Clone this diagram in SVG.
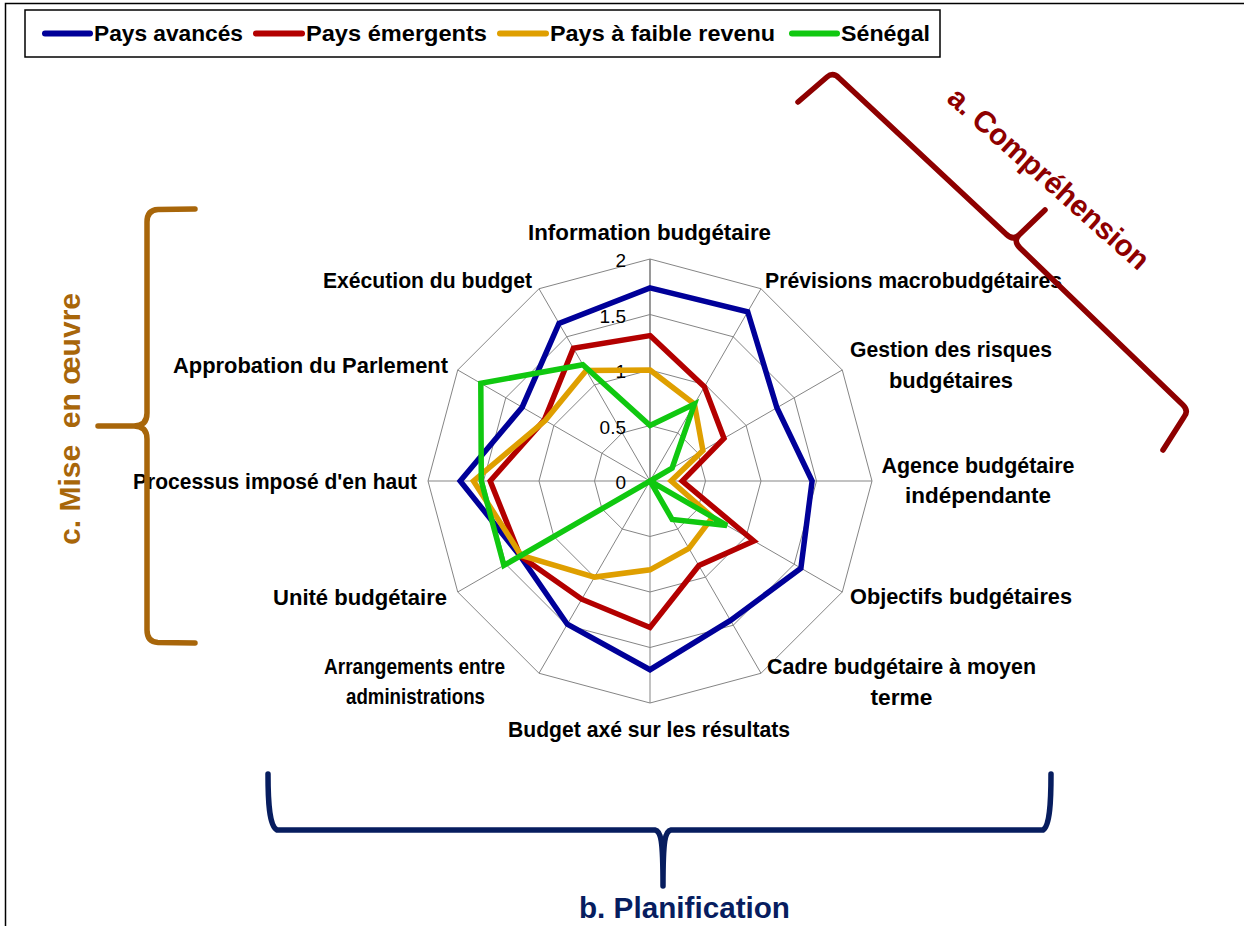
<svg xmlns="http://www.w3.org/2000/svg" width="1244" height="926" viewBox="0 0 1244 926">
<style>
.grid{fill:none;stroke:#858585;stroke-width:1}
.ser{fill:none;stroke-width:5.5;stroke-linejoin:miter;stroke-miterlimit:4}
.lbl{font-family:"Liberation Sans",Arial,sans-serif;font-weight:bold;font-size:21.5px;fill:#000;text-anchor:middle}
.tick{font-family:"Liberation Sans",Arial,sans-serif;font-size:19px;fill:#000;text-anchor:end}
.leg{font-family:"Liberation Sans",Arial,sans-serif;font-weight:bold;font-size:21.5px;fill:#000}
.legline{stroke-width:6;stroke-linecap:round}
.brace{fill:none;stroke-width:5.5;stroke-linecap:round;stroke-linejoin:round}
.big{font-family:"Liberation Sans",Arial,sans-serif;font-weight:bold;font-size:30px;text-anchor:middle}
</style>
<rect width="1244" height="926" fill="#fff"/>
<path d="M5.5,926 L5.5,3.5 L1244,3.5" fill="none" stroke="#000" stroke-width="1.5"/>

<g id="legend">
<rect x="25" y="10" width="915" height="47" fill="#fff" stroke="#000" stroke-width="1.5"/>
<line class="legline" x1="45" y1="33.5" x2="90" y2="33.5" stroke="#000099"/>
<text class="leg" x="94" y="41" textLength="149" lengthAdjust="spacingAndGlyphs">Pays avancés</text>
<line class="legline" x1="256" y1="33.5" x2="302" y2="33.5" stroke="#B30000"/>
<text class="leg" x="306" y="41" textLength="181" lengthAdjust="spacingAndGlyphs">Pays émergents</text>
<line class="legline" x1="500" y1="33.5" x2="546" y2="33.5" stroke="#DF9F00"/>
<text class="leg" x="550" y="41" textLength="225" lengthAdjust="spacingAndGlyphs">Pays à faible revenu</text>
<line class="legline" x1="792" y1="33.5" x2="837" y2="33.5" stroke="#10C810"/>
<text class="leg" x="841" y="41" textLength="89" lengthAdjust="spacingAndGlyphs">Sénégal</text>
</g>

<g id="grid">
<polygon class="grid" points="650,259 761,288.74 842.26,370 872,481 842.26,592 761,673.26 650,703 539,673.26 457.74,592 428,481 457.74,370 539,288.74"/>
<polygon class="grid" points="650,314.5 733.25,336.81 794.19,397.75 816.5,481 794.19,564.25 733.25,625.19 650,647.5 566.75,625.19 505.81,564.25 483.5,481 505.81,397.75 566.75,336.81"/>
<polygon class="grid" points="650,370 705.5,384.87 746.13,425.5 761,481 746.13,536.5 705.5,577.13 650,592 594.5,577.13 553.87,536.5 539,481 553.87,425.5 594.5,384.87"/>
<polygon class="grid" points="650,425.5 677.75,432.94 698.06,453.25 705.5,481 698.06,508.75 677.75,529.06 650,536.5 622.25,529.06 601.94,508.75 594.5,481 601.94,453.25 622.25,432.94"/>
<path class="grid" d="M650,481 L761,288.74 M650,481 L842.26,370 M650,481 L872,481 M650,481 L842.26,592 M650,481 L761,673.26 M650,481 L650,703 M650,481 L539,673.26 M650,481 L457.74,592 M650,481 L428,481 M650,481 L457.74,370 M650,481 L539,288.74"/>
<line x1="650" y1="481" x2="650" y2="259" stroke="#808080" stroke-width="1.6"/>
</g>

<g id="ticks">
<text class="tick" x="626" y="267">2</text>
<text class="tick" x="626" y="322.5">1.5</text>
<text class="tick" x="626" y="378">1</text>
<text class="tick" x="626" y="433.5">0.5</text>
<text class="tick" x="626" y="489">0</text>
</g>

<g id="series">
<polygon id="s-avances" class="ser" stroke="#000099" points="650,287.9 747.7,311.8 776.9,407.7 812.1,481 800.9,568.2 730.5,620.4 650,669.7 567.3,624.2 520.2,556 460.2,481 522.2,407.2 559,323.4"/>
<polygon id="s-emergents" class="ser" stroke="#B30000" points="650,335.6 704.4,386.8 724,438.3 682.2,481 753.8,541 698.9,565.6 650,627.5 581.7,599.2 520.2,556 490.2,481 544.3,420 573.4,348.3"/>
<polygon id="s-faible" class="ser" stroke="#DF9F00" points="650,370 694.4,404.1 702.9,450.5 671.1,481 712.5,517.1 688.9,548.3 650,569.8 594.5,577.1 521.2,555.4 473.5,481 545.2,420.5 586.2,370.4"/>
<polygon id="s-senegal" class="ser" stroke="#10C810" points="650,425.5 694.4,404.1 672.1,468.2 650,481 726.9,525.4 672.2,519.5 650,481 503.9,565.4 481.3,481 480.8,383.3 582.8,364.7"/>
</g>

<g id="labels">
<g id="lbl-information"><text class="lbl" x="649.5" y="240" textLength="243" lengthAdjust="spacingAndGlyphs">Information budgétaire</text></g>
<g id="lbl-previsions"><text class="lbl" x="913.5" y="288" textLength="297" lengthAdjust="spacingAndGlyphs">Prévisions macrobudgétaires</text></g>
<g id="lbl-risques"><text class="lbl" x="951" y="357" textLength="202" lengthAdjust="spacingAndGlyphs">Gestion des risques</text><text class="lbl" x="951" y="388" textLength="124" lengthAdjust="spacingAndGlyphs">budgétaires</text></g>
<g id="lbl-agence"><text class="lbl" x="978" y="473" textLength="193" lengthAdjust="spacingAndGlyphs">Agence budgétaire</text><text class="lbl" x="978" y="503" textLength="146" lengthAdjust="spacingAndGlyphs">indépendante</text></g>
<g id="lbl-objectifs"><text class="lbl" x="961" y="604" textLength="222" lengthAdjust="spacingAndGlyphs">Objectifs budgétaires</text></g>
<g id="lbl-cadre"><text class="lbl" x="901.5" y="674" textLength="269" lengthAdjust="spacingAndGlyphs">Cadre budgétaire à moyen</text><text class="lbl" x="901.5" y="705" textLength="62" lengthAdjust="spacingAndGlyphs">terme</text></g>
<g id="lbl-resultats"><text class="lbl" x="649" y="737" textLength="282" lengthAdjust="spacingAndGlyphs">Budget axé sur les résultats</text></g>
<g id="lbl-arrangements"><text class="lbl" x="414.5" y="674" textLength="181" lengthAdjust="spacingAndGlyphs">Arrangements entre</text><text class="lbl" x="415.5" y="704" textLength="139" lengthAdjust="spacingAndGlyphs">administrations</text></g>
<g id="lbl-unite"><text class="lbl" x="360" y="605" textLength="174" lengthAdjust="spacingAndGlyphs">Unité budgétaire</text></g>
<g id="lbl-processus"><text class="lbl" x="275" y="489" textLength="284" lengthAdjust="spacingAndGlyphs">Processus imposé d'en haut</text></g>
<g id="lbl-approbation"><text class="lbl" x="310.5" y="373" textLength="275" lengthAdjust="spacingAndGlyphs">Approbation du Parlement</text></g>
<g id="lbl-execution"><text class="lbl" x="427.5" y="288" textLength="209" lengthAdjust="spacingAndGlyphs">Exécution du budget</text></g>
</g>

<g id="brace-c">
<path class="brace" stroke="#A8660A" d="M195,209 L158,209.5 Q147,210 147,222 L147,413 Q147,426 134,426 L98,426 M134,426 Q147,426 147,439 L147,630 Q147,642 158,642.5 L195,643"/>
<text class="big" fill="#A8660A" transform="translate(80,419) rotate(-90)" xml:space="preserve" textLength="252" lengthAdjust="spacingAndGlyphs">c. Mise  en œuvre</text>
</g>

<g id="brace-a">
<path class="brace" stroke="#8E0000" d="M798,102 L827,77 Q833,72 839,78 L1006,234 Q1013,241 1019,235 L1045,210 M1019,235 Q1013,241 1020,248 L1183,405 Q1189,411 1184,417 L1163,450"/>
<text class="big" fill="#8E0000" transform="translate(1042,186) rotate(41.5)" textLength="258" lengthAdjust="spacingAndGlyphs">a. Compréhension</text>
</g>

<g id="brace-b">
<path class="brace" stroke="#071D5F" d="M268,774 C268,800 269,826 277,830 L655,830 C661,831 663,840 663,886 M663,886 C663,840 665,831 671,830 L1043,830 C1050,826 1051,800 1051,774"/>
<text class="big" fill="#071D5F" x="684.5" y="918" font-size="29" textLength="211" lengthAdjust="spacingAndGlyphs">b. Planification</text>
</g>
</svg>
